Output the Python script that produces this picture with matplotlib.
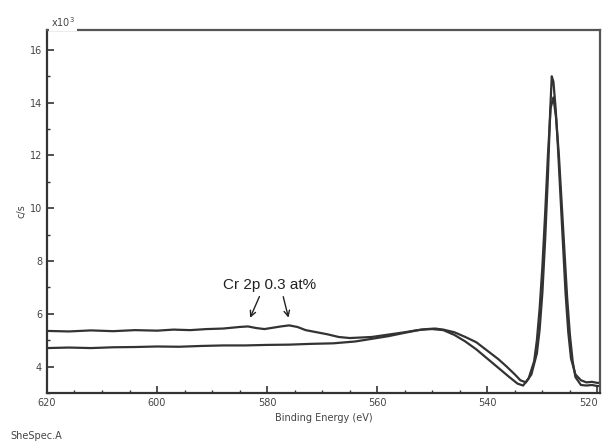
import matplotlib.pyplot as plt
import numpy as np

# binding energy (eV) and counts (x10^3 c/s), two spectra
energy_a = [620, 616, 612, 608, 604, 600, 597, 594, 591, 588, 586.5, 585, 583.5,
            582, 580.5, 579, 577.5, 576, 574.5, 573, 571, 569, 567, 565, 563, 561,
            559, 557, 555, 553, 551, 549.5, 548, 546, 544, 542, 540, 538, 536.5,
            535, 534, 533, 532, 531, 530.5, 530, 529.5, 529, 528.6, 528.3, 528,
            527.6, 527.2, 526.8, 526.3, 525.8, 525.3, 524.8, 524, 523, 522, 521,
            520, 519]
counts_a = [5.35, 5.33, 5.37, 5.34, 5.38, 5.36, 5.40, 5.38, 5.42, 5.44, 5.47,
            5.50, 5.52, 5.46, 5.42, 5.47, 5.52, 5.56, 5.50, 5.38, 5.30, 5.22,
            5.12, 5.08, 5.10, 5.12, 5.18, 5.24, 5.30, 5.37, 5.42, 5.44, 5.40,
            5.30, 5.12, 4.92, 4.60, 4.28, 4.00, 3.70, 3.48, 3.40, 3.70, 4.50,
            5.40, 6.80, 8.80, 11.2, 13.6, 15.0, 14.8, 13.8, 12.4, 10.8, 8.8,
            6.8, 5.3, 4.3, 3.70, 3.48, 3.40, 3.42, 3.38, 3.40]

energy_b = [620, 616, 612, 608, 604, 600, 596, 592, 588, 584, 580, 576, 572,
            568, 564, 561, 558, 555, 552, 550, 548, 546, 544, 542, 540, 538,
            536, 534.5, 533.5, 532.5, 531.5, 531, 530.5, 530, 529.5, 529, 528.5,
            528, 527.5, 527, 526.5, 526, 525.5, 525, 524.5, 524, 523, 522, 521,
            520, 519]
counts_b = [4.70, 4.72, 4.70, 4.73, 4.74, 4.76, 4.75, 4.78, 4.80, 4.80, 4.82,
            4.83, 4.86, 4.88, 4.95, 5.05, 5.15, 5.28, 5.40, 5.42, 5.38, 5.20,
            4.95, 4.65, 4.30, 3.95, 3.60, 3.35, 3.28, 3.55, 4.20, 5.00, 6.20,
            7.80, 9.80, 12.0, 13.8, 14.2, 13.4, 12.0, 10.2, 8.4, 6.6, 5.2, 4.2,
            3.60, 3.30, 3.28, 3.30, 3.26, 3.28]

x_ticks = [620, 600, 580, 560, 540, 520]
y_ticks = [4, 6, 8, 10, 12, 14, 16]

fig = plt.figure(figsize=(6.02, 4.46), dpi=100)
ax = fig.add_axes([0.078, 0.119, 0.919, 0.814])

col = '#333333'
ax.plot(energy_a, counts_a, color=col, lw=1.6)
ax.plot(energy_b, counts_b, color=col, lw=1.6)

ax.set_xlim(620, 519.5)
ax.set_ylim(3, 16.76)
ax.set_xticks(x_ticks)
ax.set_yticks(y_ticks)
ax.set_xticks(np.arange(615, 519, -5), minor=True)
ax.set_yticks(np.arange(3, 16.8, 1), minor=True)
ax.tick_params(which='both', direction='in', color=col, labelsize=7,
               labelcolor='#444444')
ax.tick_params(which='major', length=5, width=1.2)
ax.tick_params(which='minor', length=2.5, width=1)
# last energy label sits on the figure edge
ax.get_xticklabels()[-1].set_horizontalalignment('right')
for s in ax.spines.values():
    s.set_color('#555555')
    s.set_linewidth(1.6)
ax.spines['left'].set_color(col)
ax.spines['bottom'].set_color(col)

ax.set_xlabel('Binding Energy (eV)', fontsize=7, color='#444444', labelpad=4)
ax.set_ylabel('c/s', fontsize=7, color='#444444', labelpad=2)

fig.text(0.085, 0.935, 'x10$^3$', fontsize=7, color='#444444', va='bottom',
         bbox=dict(fc='white', ec='none', pad=1.5))
fig.text(0.018, 0.015, 'SheSpec.A', fontsize=7, color='#444444')

ax.text(579.5, 7.1, 'Cr 2p 0.3 at%', fontsize=11, ha='center', va='center',
        family='Liberation Sans', color='#222222')
ax.annotate('', xy=(583.3, 5.75), xytext=(581.2, 6.75),
            arrowprops=dict(arrowstyle='->', color='#222222', lw=1))
ax.annotate('', xy=(576.0, 5.75), xytext=(577.2, 6.75),
            arrowprops=dict(arrowstyle='->', color='#222222', lw=1))

fig.savefig('out.png', dpi=100)
